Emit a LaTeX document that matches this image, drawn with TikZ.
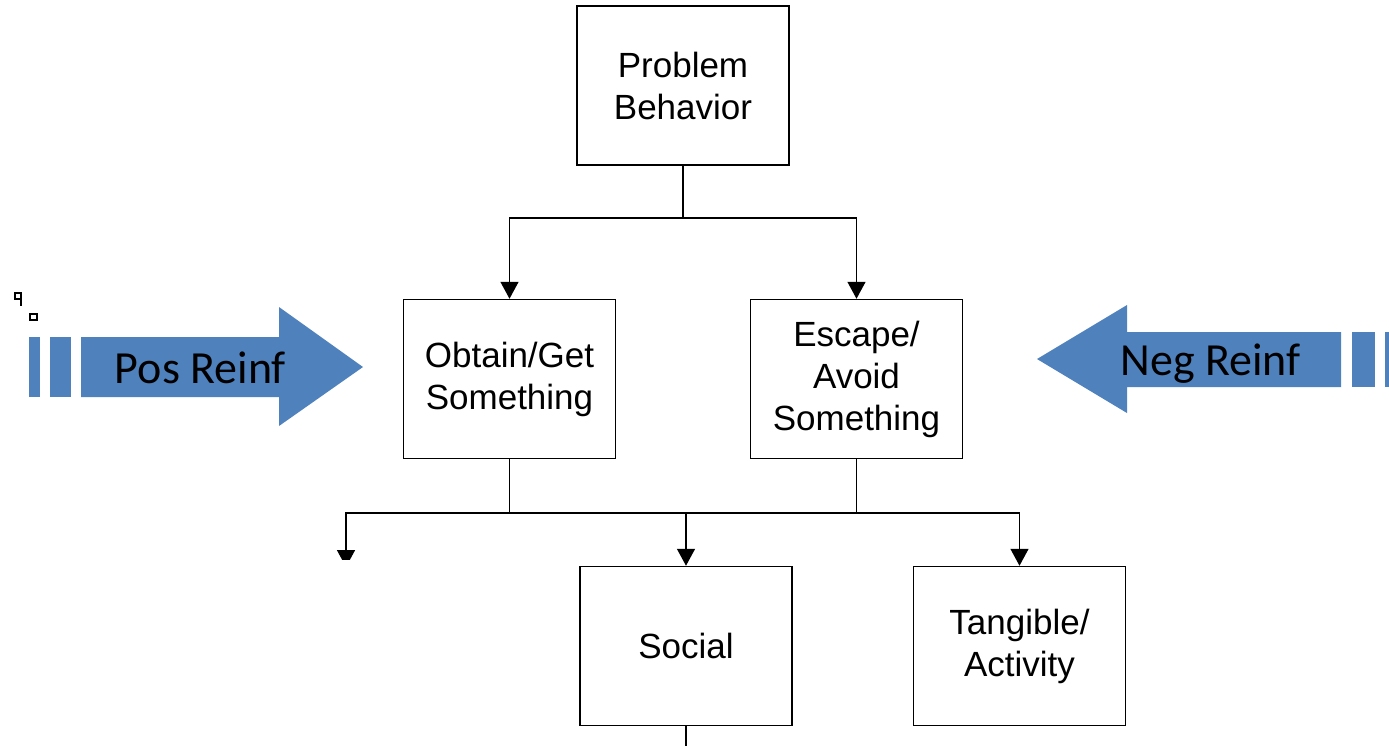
\documentclass[tikz,border=0pt]{standalone}
\usepackage{fontspec}
\setmainfont{Liberation Sans}
\newfontfamily\reinffont{Carlito}
\usetikzlibrary{arrows.meta}
\definecolor{reinfblue}{RGB}{79,129,189}

\begin{document}
\begin{tikzpicture}[x=0.5pt, y=-0.5pt,
    box/.style={draw, line width=0.75pt, minimum width=106pt, minimum height=79.5pt,
        align=center, font=\fontsize{17.5}{21}\selectfont},
    link/.style={line width=0.75pt},
    tip/.style={link, -{Triangle[length=8.5pt, width=9pt]}},
    reinf/.style={fill=reinfblue},
    reinflabel/.style={anchor=base, inner sep=0pt, font=\reinffont\fontsize{23}{27}\selectfont}]
    \useasboundingbox (0, 0) rectangle (1389, 746);

    \node [box] (problem) at (683, 85.5) {Problem\\Behavior};
    \node [box] (obtain) at (509.5, 379) {Obtain/Get\\Something};
    \node [box] (escape) at (856.5, 379) {Escape/\\Avoid\\Something};
    \node [box] (social) at (686, 646) {Social};
    \node [box] (tangible) at (1019.5, 646) {Tangible/\\Activity};

    \coordinate (split1) at (683, 218);
    \draw [link] (problem) -- (split1);
    \draw [tip] (split1) -| (obtain);
    \draw [tip] (split1) -| (escape);

    \coordinate (split2) at (509.5, 513);
    \coordinate (lost) at (346, 567);
    \coordinate (bottomend) at (686, 746);
    \draw [link] (obtain) -- (split2);
    \draw [link] (escape) -- (escape |- split2);
    \draw [tip] (split2) -| (social);
    \draw [tip] (split2) -| (tangible);
    \begin{scope}
        \clip (0, 0) rectangle (1389, 559);
        \draw [tip] (split2) -| (lost);
    \end{scope}
    \draw [link] (social) -- (bottomend);

    \foreach \a/\b in {29/40, 50/71} {
        \fill [reinf] (\a, 337) rectangle (\b, 397);
    }
    \fill [reinf] (81, 337) -- (279, 337) -- (279, 307) -- (363, 367)
        -- (279, 426) -- (279, 397) -- (81, 397) -- cycle;
    \node [reinflabel] (pos) at (200.5, 383) {Pos Reinf};

    \foreach \a/\b in {1352/1375, 1385/1389} {
        \fill [reinf] (\a, 332) rectangle (\b, 387);
    }
    \fill [reinf] (1037, 359) -- (1127, 305) -- (1127, 332) -- (1341, 332)
        -- (1341, 387) -- (1127, 387) -- (1127, 413) -- cycle;
    \node [reinflabel] (neg) at (1210.5, 375) {Neg Reinf};

    \draw [line width=1pt] (14.5, 292.5) rectangle (20.5, 299) (20.5, 299) -- (20.5, 306);
    \draw [line width=1pt] (29.5, 314) rectangle (36.5, 320);
\end{tikzpicture}
\end{document}
